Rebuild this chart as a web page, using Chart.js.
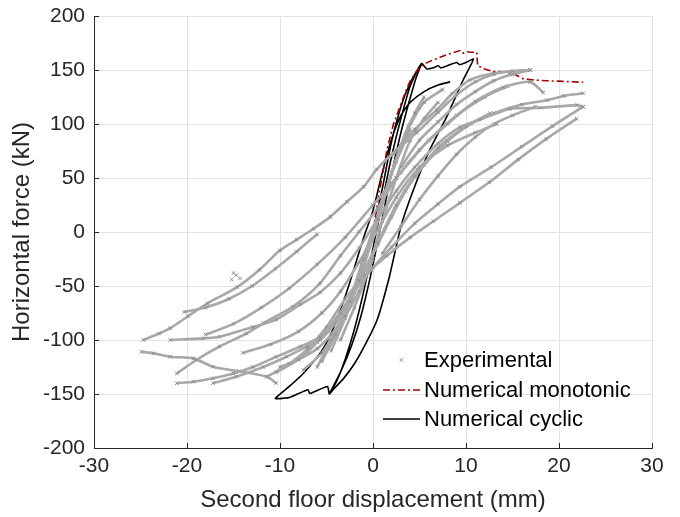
<!DOCTYPE html>
<html>
<head>
<meta charset="utf-8">
<script src="https://cdn.jsdelivr.net/npm/chart.js@4.4.1/dist/chart.umd.min.js"></script>
<style>
  html, body { margin: 0; padding: 0; background: #fff; }
  #wrap { width: 680px; height: 517px; }
</style>
</head>
<body>
<div id="wrap"><canvas id="chart" width="680" height="517"></canvas></div>
<script>
// axis ticks
const xTicks = [-30, -20, -10, 0, 10, 20, 30];
const yTicks = [-200, -150, -100, -50, 0, 50, 100, 150, 200];

// experimental branches [displacement mm, force kN]
const expA = [[-24.7,-100],[-23,-94],[-21.8,-89],[-19.9,-78],[-17.8,-66],[-14.6,-51],[-12.2,-35],[-10,-17],[-8.2,-7],[-6.4,3],[-4.6,14],[-2.8,28],[-1,42],[0.4,58],[2.5,76],[4.7,92],[7,111],[9,127],[11,139],[13,146],[15,149],[16.9,150]];
const expB = [[-20.3,-74],[-18,-70],[-15.5,-62],[-13,-50],[-10.5,-34],[-8.2,-18],[-6,-2]];
const expC = [[-21.8,-100],[-18.2,-98.5],[-16.5,-97],[-12.9,-88],[-10.4,-81],[-7.8,-67],[-5.7,-56],[-3.5,-38],[-1.5,-15],[0.5,12],[2.5,38],[4.5,60],[7,82],[9.35,97],[11.5,104],[14.7,114],[18,115],[21.9,117.5],[22.6,116]];
const expD = [[-21.1,-131],[-19,-118.5],[-16.5,-106],[-13.6,-94],[-11.8,-84.5],[-8.6,-69],[-5.7,-47.5],[-3.5,-22],[-1.5,0],[0.5,22],[2.5,50],[5,76],[8,100],[11,121],[14,134],[16.9,139],[18.3,129]];
const expE = [[-21.1,-140],[-19.3,-138.6],[-17.2,-135.5],[-15,-131],[-12.9,-125],[-10.4,-115.5],[-7.8,-106],[-5.7,-97],[-3.5,-75],[-1.5,-45],[0.5,-10],[2.5,25],[4.5,52],[7,78],[10,98],[13,110],[16,118],[18.7,122],[20.5,126],[22.6,128.4]];
const expF = [[-17.2,-140],[-14.7,-134],[-11.8,-125],[-9.3,-115.5],[-7.1,-106],[-5.7,-100],[-4,-84],[-2.5,-64],[-1,-38],[0.5,-12],[2,14],[3.5,38],[5.5,62],[8,84],[10.5,100],[12.6,110]];
const expG = [[-24.9,-110.8],[-23.6,-112.3],[-21.8,-115.5],[-19.3,-117],[-17.2,-124.7],[-14.4,-129],[-11.4,-134],[-10.4,-140]];
const expH = [[22.6,116],[19.3,98],[16,79],[12.7,60],[9.35,42],[7,26],[4.5,8],[2,-14],[0,-33],[-2,-55],[-4,-80],[-6,-102],[-8,-118],[-10.4,-130]];
const expI = [[21.9,105],[18.6,86],[15.6,67],[12.5,46],[9.35,27],[6.5,10],[4,-5],[1.5,-22],[-1,-41],[-3,-62],[-5,-88],[-7,-108],[-9,-122],[-11.4,-134]];
const expJ = [[-18,-95],[-15,-85],[-12,-70],[-9,-52],[-6,-30],[-3,-5],[0,25],[3,55],[6,85],[9,108],[12,125],[14.5,135]];
const expK = [[2,70],[4.5,95],[6.85,113],[8.5,128],[10.4,140.7],[13,147],[16.9,150]];
const expL = [[-14,-112],[-11,-104],[-8,-92],[-5.5,-75],[-3.5,-55],[-1.5,-28],[0.5,2],[2.5,32],[5,60],[8,80],[11,92],[13.3,100]];
const expM = [[3,60],[5,85],[7,102],[9,118],[11,130],[13,140],[15,146],[16.9,150]];
const expN = [[-10,-125],[-8,-118],[-6,-108],[-4.5,-95],[-3,-78],[-1.5,-55],[0,-25]];
const expO = [[1,-20],[3,5],[5,30],[7,52],[9,72],[11,88],[13,100],[15,108],[17.5,116]];
const core1 = [[-4.5,-110],[-3,-80],[-1.5,-45],[0,-5],[1.5,40],[3,80],[4.5,110],[5.5,125]];
const core2 = [[-5.5,-120],[-4,-95],[-2.5,-65],[-1,-25],[0.5,15],[2,55],[3.5,90],[5,115]];
const core3 = [[-3.5,-100],[-2,-70],[-0.5,-35],[1,10],[2.5,50],[4,85],[5.5,105],[7,120]];
const core4 = [[-6,-125],[-4.5,-100],[-3,-72],[-1.5,-40],[0,0],[1,30],[2.5,65],[4,95]];
const core5 = [[-7.5,-128],[-5.5,-112],[-3.8,-88],[-2.2,-55],[-0.8,-18],[0.8,22],[2.2,60],[3.8,98],[5.5,120],[7.5,132]];
const stray = [[-15.2,-44],[-14.7,-40],[-14.3,-43],[-15,-38]];

// numerical monotonic
const mono = [[0,0],[0.7,38],[1.5,76],[2.2,100],[2.9,116],[3.5,130],[4,140],[4.7,149],[5.4,155],[6.1,158],[7,161],[7.9,164],[8.6,166],[9.35,168],[9.7,165.5],[10.06,167],[10.5,166.5],[11.15,166.5],[11.25,154],[12,151],[12.9,148.5],[13.7,148.5],[15,147],[16.1,142],[17,141],[18.7,140],[20.5,139.5],[22.6,138.6]];

// numerical cyclic
const cyc = [[0,0],[1,40],[2,84],[3,116],[4,138],[5.2,156],
  [4.6,142],[3.8,118],[3,92],[2.2,62],[1.4,30],[0.6,-5],[-0.3,-42],[-1.3,-78],[-2.3,-105],[-3.4,-128],[-4.7,-150],
  [-3.9,-138],[-3,-118],[-2,-90],[-1,-55],[0,-15],[1,28],[2,70],[3,105],[4,135],[5.2,156],
  [5.8,151],[6.5,152],[7,154],[7.3,152],[8,154],[9,157],[9.3,155],[10,157],[10.8,160],
  [9.7,141],[8,108],[6.1,76],[4.3,38],[3,5],[1.8,-40],[0.5,-80],[-0.7,-102],[-2,-122],[-3.2,-136],[-4.3,-146],[-4.7,-150],
  [-4.9,-143],[-6.8,-149.5],[-7,-146],[-8.9,-153],[-9.7,-154],[-10.5,-154],
  [-9,-143],[-7.5,-131],[-5.5,-110],[-4.2,-88],[-3,-60],[-2,-33],[-1,-5],[0,20],[1,55],[2,86],[3,108],[4,120],[5.5,130],[7,136],[8.3,139]];

const expBranches = [expA, expB, expC, expD, expE, expF, expG, expH, expI, expJ, expK, expL, expM, expN, expO, core1, core2, core3, core4, core5];

const TXT = '#262626';
const FONT = 'Liberation Sans, Arial, Helvetica, sans-serif';
const GRAY = '#8c8c8c';
const toXY = arr => arr.map(p => ({x: p[0], y: p[1]}));

const datasets = [];
expBranches.forEach(b => datasets.push({
  data: toXY(b),
  showLine: true,
  borderColor: '#a8a8a8',
  borderWidth: 2.6,
  pointStyle: 'crossRot',
  pointRadius: 2.5,
  pointBorderWidth: 1,
  pointBorderColor: GRAY,
  tension: 0.25,
}));
datasets.push({
  data: toXY(stray), showLine: false,
  pointStyle: 'crossRot', pointRadius: 2.5, pointBorderWidth: 1, pointBorderColor: GRAY,
});
datasets.push({
  label: 'Numerical monotonic',
  data: toXY(mono),
  showLine: true,
  borderColor: '#a50000',
  borderWidth: 1.6,
  borderDash: [7, 3, 2, 3],
  pointRadius: 0,
});
datasets.push({
  label: 'Numerical cyclic',
  data: toXY(cyc),
  showLine: true,
  borderColor: '#000',
  borderWidth: 1.6,
  pointRadius: 0,
  tension: 0.2,
});

// inside tick marks, like MATLAB
const insideTicks = {
  id: 'insideTicks',
  afterDraw(chart) {
    const {ctx, chartArea: a, scales: {x, y}} = chart;
    ctx.save();
    ctx.strokeStyle = TXT;
    ctx.lineWidth = 1;
    ctx.beginPath();
    xTicks.forEach(v => {
      const px = Math.round(x.getPixelForValue(v)) + 0.5;
      ctx.moveTo(px, a.bottom); ctx.lineTo(px, a.bottom - 5);
    });
    yTicks.forEach(v => {
      const py = Math.round(y.getPixelForValue(v)) + 0.5;
      ctx.moveTo(a.left, py); ctx.lineTo(a.left + 5, py);
    });
    ctx.stroke();
    ctx.restore();
  }
};

// legend inside the axes, bottom right
const innerLegend = {
  id: 'innerLegend',
  afterDraw(chart) {
    const {ctx, chartArea: a} = chart;
    const x0 = a.right - 269, x1 = a.right - 232, tx = a.right - 228;
    const rows = [a.bottom - 88, a.bottom - 58, a.bottom - 29];
    ctx.save();
    ctx.strokeStyle = GRAY;
    ctx.lineWidth = 1;
    const mx = (x0 + x1) / 2, my = rows[0], r = 1.8;
    ctx.beginPath();
    ctx.moveTo(mx - r, my - r); ctx.lineTo(mx + r, my + r);
    ctx.moveTo(mx - r, my + r); ctx.lineTo(mx + r, my - r);
    ctx.stroke();
    ctx.strokeStyle = '#a50000';
    ctx.lineWidth = 1.6;
    ctx.setLineDash([7, 3, 2, 3]);
    ctx.beginPath(); ctx.moveTo(x0, rows[1]); ctx.lineTo(x1, rows[1]); ctx.stroke();
    ctx.setLineDash([]);
    ctx.strokeStyle = '#000';
    ctx.beginPath(); ctx.moveTo(x0, rows[2]); ctx.lineTo(x1, rows[2]); ctx.stroke();
    ctx.fillStyle = '#000';
    ctx.font = '22px ' + FONT;
    ctx.textBaseline = 'middle';
    ctx.fillText('Experimental', tx, rows[0] + 1);
    ctx.fillText('Numerical monotonic', tx, rows[1] + 1);
    ctx.fillText('Numerical cyclic', tx, rows[2] + 1);
    ctx.restore();
  }
};

new Chart(document.getElementById('chart'), {
  type: 'scatter',
  data: {datasets},
  options: {
    responsive: false,
    animation: false,
    layout: {padding: {left: 0, right: 28, top: 16, bottom: 0}},
    plugins: {
      legend: {display: false},
      tooltip: {enabled: false},
    },
    scales: {
      x: {
        type: 'linear',
        min: -30,
        max: 30,
        afterBuildTicks: s => { s.ticks = xTicks.map(v => ({value: v})); },
        afterFit: s => { s.height = 69; s.paddingLeft = 0; s.paddingRight = 0; },
        grid: {color: '#e3e3e3', drawTicks: false},
        border: {color: TXT, width: 1},
        ticks: {color: TXT, font: {family: FONT, size: 21}, padding: 6},
        title: {display: true, text: 'Second floor displacement (mm)', color: TXT, font: {family: FONT, size: 24}, padding: {bottom: 2}},
      },
      y: {
        type: 'linear',
        min: -200,
        max: 200,
        afterBuildTicks: s => { s.ticks = yTicks.map(v => ({value: v})); },
        afterFit: s => { s.width = 94; s.paddingTop = 0; s.paddingBottom = 0; },
        grid: {color: '#e3e3e3', drawTicks: false},
        border: {color: TXT, width: 1},
        ticks: {color: TXT, font: {family: FONT, size: 21}, padding: 9},
        title: {display: true, text: 'Horizontal force (kN)', color: TXT, font: {family: FONT, size: 24}, padding: {top: 8}},
      },
    },
  },
  plugins: [insideTicks, innerLegend],
});
</script>
</body>
</html>
